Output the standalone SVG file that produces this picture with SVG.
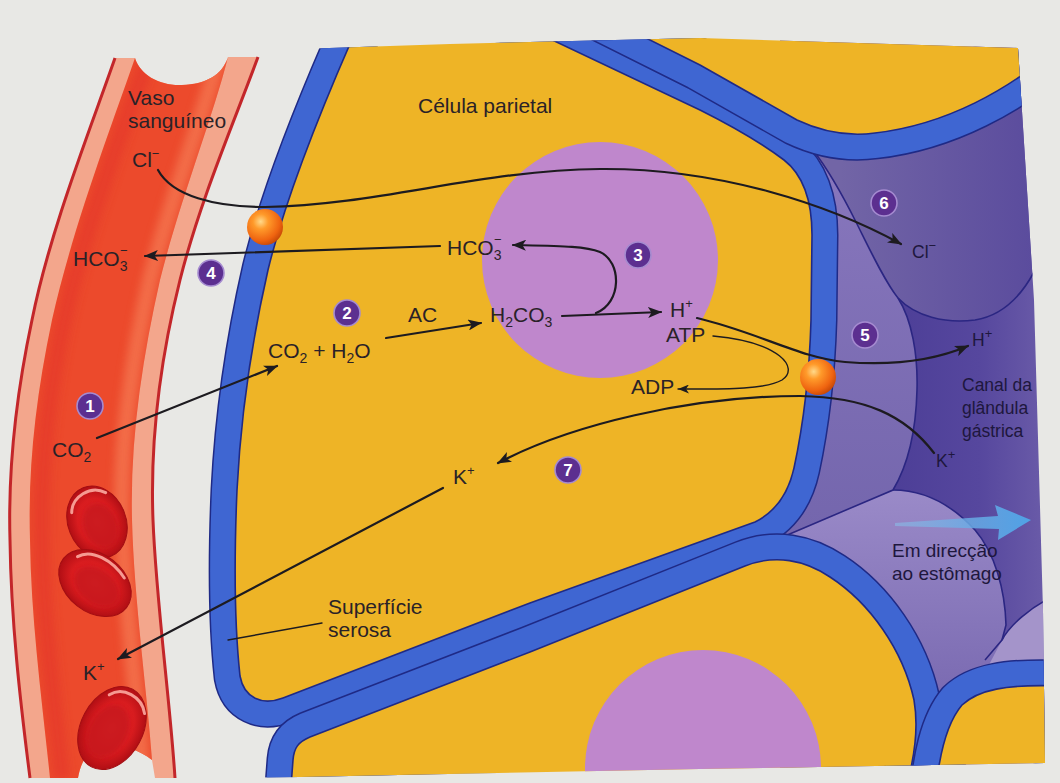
<svg xmlns="http://www.w3.org/2000/svg" width="1060" height="783" viewBox="0 0 1060 783">
<defs>
<style>
.lbl{font-family:"Liberation Sans",Arial,Helvetica,sans-serif;font-size:21px;fill:#2a2228}
.lum{font-size:17.5px;fill:#1e173d}
.dir{font-size:19px;fill:#1e173d}
.sub{font-size:14px}
.sup{font-size:13px}
.badge circle{fill:#5c2f90;stroke:#a58bd0;stroke-width:1.6}
.badge text{font-family:"Liberation Sans",Arial,sans-serif;font-weight:bold;font-size:17px;fill:#fff;text-anchor:middle}
.con{fill:none;stroke:#1d1b20;stroke-width:2.2;stroke-linecap:round}
.thin{stroke-width:1.4}
.band-o{fill:none;stroke:#1f2a86;stroke-width:53;stroke-linejoin:round}
.band{fill:none;stroke:#3f66d2;stroke-width:50;stroke-linejoin:round}
.cell{fill:#eeb426;stroke:#1f2a86;stroke-width:1.6}
.edge{fill:none;stroke:#2b2682;stroke-width:1.6}
.vline{fill:none;stroke:#c3262a;stroke-width:3}
</style>
<!-- cell interiors (yellow cytoplasm outlines) -->
<path id="cP" d="M365,10 L489,10 L700,110 C740,130 768,148 784,160 C802,174 812,200 812,235 L811,320 C809,390 800,440 794,468 C788,495 775,512 755,522 L530,603 L283,698 C262,706 244,698 240,676 C235,630 234,560 237,490 C241,410 252,340 268,270 C285,200 320,110 365,10 Z"/>
<path id="cT" d="M570,-20 L1060,-20 L1060,45 C1010,90 945,125 875,133 C845,137 818,130 797,120 L700,65 L570,0 Z"/>
<path id="cL" d="M290,800 L293,760 C294,748 298,742 310,737 L530,652 L745,566 C775,554 805,560 830,577 C870,603 903,650 914,700 C920,735 912,770 902,800 Z"/>
<path id="cB" d="M935,800 C938,760 945,725 962,705 C978,690 1005,684 1060,686 L1060,800 Z"/>
<path id="core" d="M135,58 C140,75 160,86 182,85 C205,84 222,76 228,57 C212,120 180,200 160,280 C142,360 130,440 132,520 C134,600 148,700 152,760 C140,750 122,745 108,745 C92,746 82,756 78,778 L50,778 C42,700 31,620 30,540 C28,470 35,400 52,320 C72,230 110,130 135,58 Z"/>
<clipPath id="figClip"><path d="M180,53 L450,44 L700,38 L1018,48 L1034,300 L1043,610 L1045,763 L700,769 L300,777 L180,778 Z"/></clipPath>
<clipPath id="coreClip"><use href="#core"/></clipPath>
<filter id="soft" x="-20%" y="-20%" width="140%" height="140%"><feGaussianBlur stdDeviation="4"/></filter>
<filter id="soft2" x="-20%" y="-20%" width="140%" height="140%"><feGaussianBlur stdDeviation="2"/></filter>
<linearGradient id="lumG" gradientUnits="userSpaceOnUse" x1="880" y1="0" x2="1045" y2="0">
<stop offset="0" stop-color="#4b3d96"/><stop offset="0.6" stop-color="#56479e"/><stop offset="1" stop-color="#6a5ba8"/>
</linearGradient>
<linearGradient id="bG" gradientUnits="userSpaceOnUse" x1="840" y1="0" x2="1040" y2="0">
<stop offset="0" stop-color="#7265a6"/><stop offset="1" stop-color="#5a4b9d"/>
</linearGradient>
<linearGradient id="aG" gradientUnits="userSpaceOnUse" x1="0" y1="150" x2="0" y2="530">
<stop offset="0" stop-color="#8877bd"/><stop offset="1" stop-color="#7466ad"/>
</linearGradient>
<linearGradient id="dG" gradientUnits="userSpaceOnUse" x1="0" y1="490" x2="0" y2="690">
<stop offset="0" stop-color="#9a8ac8"/><stop offset="1" stop-color="#7b6bb2"/>
</linearGradient>
<linearGradient id="blueArrow" gradientUnits="userSpaceOnUse" x1="893" y1="0" x2="1031" y2="0">
<stop offset="0" stop-color="#8cbbe6" stop-opacity="0.6"/><stop offset="1" stop-color="#4fa2e6"/>
</linearGradient>
<radialGradient id="ballG" cx="0.38" cy="0.35" r="0.7">
<stop offset="0" stop-color="#ffd98a"/><stop offset="0.3" stop-color="#ff9a2a"/><stop offset="0.75" stop-color="#ef6410"/><stop offset="1" stop-color="#c44606"/>
</radialGradient>
<radialGradient id="rbcG" cx="0.5" cy="0.5" r="0.5">
<stop offset="0" stop-color="#e4292b"/><stop offset="0.65" stop-color="#d81c1f"/><stop offset="1" stop-color="#b10e14"/>
</radialGradient>
<marker id="ah" markerUnits="userSpaceOnUse" markerWidth="15" markerHeight="11" refX="13" refY="5.5" orient="auto">
<path d="M0,0 L14,5.5 L0,11 L3.5,5.5 Z" fill="#1d1b20"/>
</marker>
<marker id="ahs" markerUnits="userSpaceOnUse" markerWidth="12" markerHeight="9" refX="11" refY="4.5" orient="auto">
<path d="M0,0 L11,4.5 L0,9 L3,4.5 Z" fill="#1d1b20"/>
</marker>
</defs>

<!-- page -->
<rect width="1060" height="783" fill="#e8e8e5"/>

<!-- blood vessel -->
<g id="vessel">
<path d="M115,58 L135,58 C140,75 160,86 182,85 C205,84 222,76 228,57 L258,57 C235,120 200,200 180,280 C160,360 150,440 153,520 C156,600 170,700 175,778 L155,778 L152,760 C140,750 122,745 108,745 C92,746 82,756 78,778 L30,778 C20,700 11,620 10,540 C8,470 15,400 32,320 C50,230 90,130 115,58 Z" fill="#f3a68c"/>
<use href="#core" fill="#ec4a2c"/>
<g clip-path="url(#coreClip)">
<path d="M218,60 C202,120 170,200 150,280 C132,360 120,440 122,520 C124,600 138,700 142,770" fill="none" stroke="#f57b55" stroke-width="16" opacity="0.7" filter="url(#soft)"/>
<path d="M148,60 C122,130 84,230 64,320 C47,400 40,470 42,540 C43,620 54,700 62,778" fill="none" stroke="#e2302a" stroke-width="16" opacity="0.5" filter="url(#soft)"/>
</g>
<path class="vline" d="M115,58 C90,130 50,230 32,320 C15,400 8,470 10,540 C11,620 20,700 30,778"/>
<path class="vline" d="M258,57 C235,120 200,200 180,280 C160,360 150,440 153,520 C156,600 170,700 175,778"/>
</g>

<!-- red blood cells -->
<g id="rbc1" transform="translate(97,522) rotate(-22)">
<ellipse rx="29" ry="37" fill="url(#rbcG)" stroke="#a30d12" stroke-width="1"/>
<ellipse cx="2" cy="5" rx="17" ry="23" fill="#c3121a" opacity="0.7" filter="url(#soft2)"/>
<path d="M-20,-18 C-14,-33 8,-37 19,-24" fill="none" stroke="#ffb3a8" stroke-width="3" stroke-linecap="round" opacity="0.85"/>
</g>
<g id="rbc2" transform="translate(95,583) rotate(38)">
<ellipse rx="40" ry="29" fill="url(#rbcG)" stroke="#a30d12" stroke-width="1"/>
<ellipse cx="4" cy="2" rx="25" ry="17" fill="#c3121a" opacity="0.7" filter="url(#soft2)"/>
<path d="M-30,-10 C-24,-25 0,-29 20,-22" fill="none" stroke="#ffb3a8" stroke-width="3" stroke-linecap="round" opacity="0.85"/>
</g>
<g id="rbc3" transform="translate(112,728) rotate(28)">
<ellipse rx="31" ry="44" fill="url(#rbcG)" stroke="#a30d12" stroke-width="1"/>
<ellipse cx="-2" cy="5" rx="19" ry="28" fill="#c3121a" opacity="0.7" filter="url(#soft2)"/>
<path d="M-18,-28 C-10,-42 12,-42 22,-28" fill="none" stroke="#ffb3a8" stroke-width="3" stroke-linecap="round" opacity="0.85"/>
</g>

<!-- gastric gland, clipped to the printed panel -->
<g id="gland" clip-path="url(#figClip)">
<g id="lumen">
<rect x="780" y="20" width="280" height="770" fill="url(#lumG)"/>
<path d="M800,100 L1060,20 L1060,262 L1034,272 C1020,298 1000,316 975,320 C945,324 915,316 898,298 C885,282 870,250 856,222 C845,200 830,172 813,150 Z" fill="url(#bG)"/>
<path d="M790,130 L813,150 C830,172 845,200 856,222 C870,250 885,282 898,298 C912,320 918,355 917,390 C916,430 908,465 893,490 L785,536 Z" fill="url(#aG)"/>
<path d="M785,536 L893,490 C925,490 952,505 975,530 C995,553 1005,590 1006,625 L1002,640 L990,720 L785,720 Z" fill="url(#dG)"/>
<path d="M1002,640 C1010,625 1030,608 1050,598 L1050,720 L960,720 Z" fill="#a494ca"/>
<path class="edge" d="M813,150 C830,172 845,200 856,222 C870,250 885,282 898,298 C915,316 945,324 975,320 C1000,316 1020,298 1034,272"/>
<path class="edge" d="M898,298 C912,320 918,355 917,390 C916,430 908,465 893,490 L785,536"/>
<path class="edge" d="M893,490 C925,490 952,505 975,530 C995,553 1005,590 1006,625 L1002,640"/>
<path class="edge" d="M985,660 L1002,640 C1010,625 1030,608 1050,598"/>
</g>
<g id="membranes">
<use href="#cP" class="band-o"/><use href="#cP" class="band"/>
<use href="#cT" class="band-o"/><use href="#cT" class="band"/>
<use href="#cL" class="band-o"/><use href="#cL" class="band"/>
<use href="#cB" class="band-o"/><use href="#cB" class="band"/>
</g>
<g id="cells">
<use id="parietal-cell" href="#cP" class="cell"/>
<use id="upper-cell" href="#cT" class="cell"/>
<use id="lower-cell" href="#cL" class="cell"/>
<use id="corner-cell" href="#cB" class="cell"/>
</g>
<circle id="nucleus" cx="600" cy="260" r="118" fill="#bf87cc"/>
<circle id="nucleus-lower" cx="703" cy="768" r="118" fill="#bf87cc"/>
</g>

<!-- transport pathways -->
<g id="connectors">
<path class="con" d="M158,170 C172,196 215,207 265,207 C380,205 480,170 600,169 C720,168 830,205 901,244" marker-end="url(#ah)"/>
<path class="con" d="M440,246 L145,256" marker-end="url(#ah)"/>
<path class="con" d="M97,438 L277,366" marker-end="url(#ah)"/>
<path class="con" d="M386,338 L481,323" marker-end="url(#ah)"/>
<path class="con" d="M562,316 L661,312" marker-end="url(#ah)"/>
<path class="con" d="M596,313 C622,303 622,262 600,252 C585,246 560,246 513,245" marker-end="url(#ah)"/>
<path class="con" d="M697,318 C760,333 800,358 845,362 C895,366 935,360 968,346" marker-end="url(#ah)"/>
<path class="con thin" d="M713,336 C780,342 800,368 782,380 C765,390 720,389 678,389" marker-end="url(#ahs)"/>
<path class="con" d="M934,453 C905,415 865,397 800,396 C690,396 570,425 498,463" marker-end="url(#ah)"/>
<path class="con" d="M443,488 L118,659" marker-end="url(#ah)"/>
<path class="con thin" d="M228,640 L322,623"/>
<path id="flow-arrow" d="M895,523 L998,516 L995,505 L1031,520 L998,540 L999,529 L895,526 Z" fill="url(#blueArrow)"/>
</g>

<!-- ion pumps / exchangers -->
<circle id="exchanger" cx="265" cy="227" r="18" fill="url(#ballG)"/>
<circle id="pump" cx="818" cy="377" r="18" fill="url(#ballG)"/>

<!-- step markers -->
<g id="step1" class="badge"><circle cx="90" cy="406" r="13"/><text x="90" y="412">1</text></g>
<g id="step2" class="badge"><circle cx="347" cy="313" r="13"/><text x="347" y="319">2</text></g>
<g id="step3" class="badge"><circle cx="638" cy="255" r="13"/><text x="638" y="261">3</text></g>
<g id="step4" class="badge"><circle cx="211" cy="273" r="13"/><text x="211" y="279">4</text></g>
<g id="step5" class="badge"><circle cx="865" cy="335" r="13"/><text x="865" y="341">5</text></g>
<g id="step6" class="badge"><circle cx="884" cy="203" r="13"/><text x="884" y="209">6</text></g>
<g id="step7" class="badge"><circle cx="568" cy="470" r="13"/><text x="568" y="476">7</text></g>

<!-- labels -->
<g id="lbl-vessel"><text class="lbl" x="128" y="105" font-size="19.5">Vaso</text><text class="lbl" x="128" y="128" font-size="19.5">sanguíneo</text></g>
<g id="lbl-cl-blood"><text class="lbl" x="132" y="167">Cl<tspan class="sup" dy="-9">−</tspan></text></g>
<g id="lbl-hco3-blood"><text class="lbl" x="73" y="266">HCO<tspan class="sub" dy="5">3</tspan></text><text class="lbl sup" x="120" y="255">−</text></g>
<g id="lbl-cell"><text class="lbl" x="418" y="113">Célula parietal</text></g>
<g id="lbl-hco3-cell"><text class="lbl" x="447" y="255">HCO<tspan class="sub" dy="5">3</tspan></text><text class="lbl sup" x="494" y="244">−</text></g>
<g id="lbl-ac"><text class="lbl" x="408" y="322">AC</text></g>
<g id="lbl-h2co3"><text class="lbl" x="490" y="322">H<tspan class="sub" dy="5">2</tspan><tspan dy="-5">CO</tspan><tspan class="sub" dy="5">3</tspan></text></g>
<g id="lbl-h-cell"><text class="lbl" x="670" y="317">H<tspan class="sup" dy="-9">+</tspan></text></g>
<g id="lbl-atp"><text class="lbl" x="666" y="342">ATP</text></g>
<g id="lbl-adp"><text class="lbl" x="631" y="394">ADP</text></g>
<g id="lbl-co2-h2o"><text class="lbl" x="268" y="358">CO<tspan class="sub" dy="5">2</tspan><tspan dy="-5"> + H</tspan><tspan class="sub" dy="5">2</tspan><tspan dy="-5">O</tspan></text></g>
<g id="lbl-co2-blood"><text class="lbl" x="52" y="457">CO<tspan class="sub" dy="5">2</tspan></text></g>
<g id="lbl-k-cell"><text class="lbl" x="453" y="484">K<tspan class="sup" dy="-9">+</tspan></text></g>
<g id="lbl-k-blood"><text class="lbl" x="83" y="680">K<tspan class="sup" dy="-9">+</tspan></text></g>
<g id="lbl-serosa"><text class="lbl" x="328" y="614">Superfície</text><text class="lbl" x="328" y="637">serosa</text></g>
<g id="lbl-cl-lumen"><text class="lbl lum" x="912" y="258">Cl<tspan class="sup" dy="-8">−</tspan></text></g>
<g id="lbl-h-lumen"><text class="lbl lum" x="972" y="346">H<tspan class="sup" dy="-8">+</tspan></text></g>
<g id="lbl-k-lumen"><text class="lbl lum" x="936" y="467">K<tspan class="sup" dy="-8">+</tspan></text></g>
<g id="lbl-canal"><text class="lbl lum" x="962" y="391">Canal da</text><text class="lbl lum" x="962" y="414">glândula</text><text class="lbl lum" x="962" y="437">gástrica</text></g>
<g id="lbl-direction"><text class="lbl dir" x="892" y="557">Em direcção</text><text class="lbl dir" x="892" y="580">ao estômago</text></g>
</svg>
